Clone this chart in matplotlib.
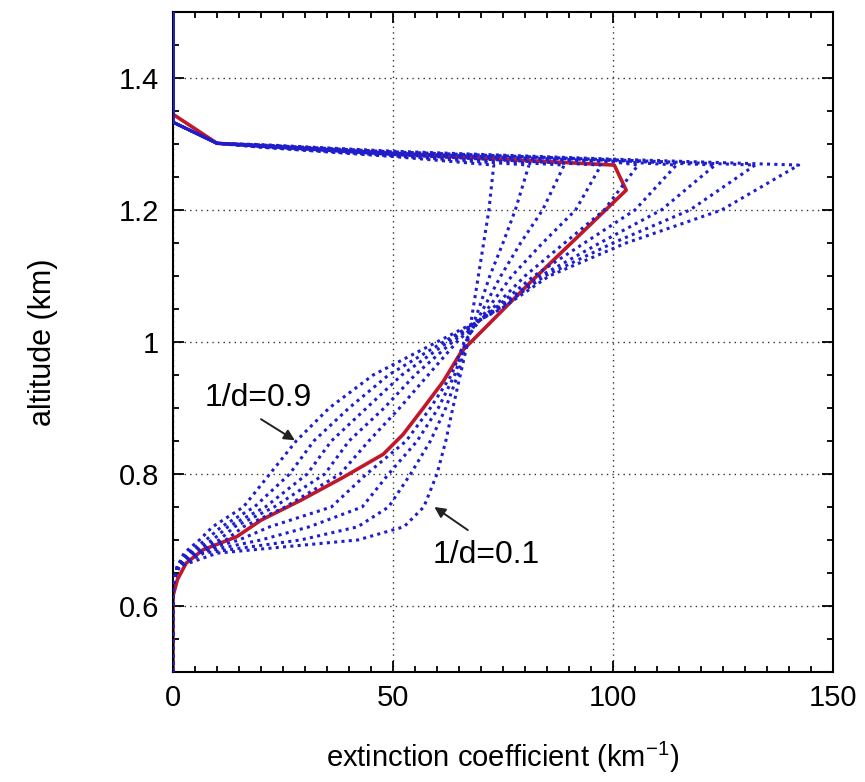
import matplotlib
matplotlib.use("Agg")
import matplotlib.pyplot as plt
from matplotlib.ticker import FixedLocator, FixedFormatter, MultipleLocator

plt.rcParams['font.family'] = ['Liberation Sans', 'DejaVu Sans']
plt.rcParams['mathtext.default'] = 'regular'

# ---- data -------------------------------------------------------------
# altitude levels (km) shared by the nine 1/d curves
alt_levels = [0.50, 0.62, 0.64, 0.66, 0.68, 0.70, 0.72, 0.75, 0.80, 0.85,
              0.90, 0.95, 1.00, 1.05, 1.10, 1.15, 1.20, 1.268]

inv_d = [0.1, 0.2, 0.3, 0.4, 0.5, 0.6, 0.7, 0.8, 0.9]

ext_d01 = [0, 0, 0.3, 1.5, 10.0, 42.0, 52.5, 57.0, 60.0, 62.0, 63.6, 65.3, 67.0, 68.2, 69.4, 70.6, 71.8, 72.9]
ext_d02 = [0, 0, 0.3, 1.3, 7.0, 29.0, 42.0, 49.0, 54.0, 58.5, 62.0, 64.7, 66.7, 69.5, 72.0, 75.0, 77.8, 80.9]
ext_d03 = [0, 0, 0.3, 1.2, 5.5, 20.0, 31.0, 43.0, 49.0, 55.5, 60.3, 64.0, 66.5, 70.5, 74.5, 79.0, 84.0, 88.9]
ext_d04 = [0, 0, 0.3, 1.1, 5.0, 15.0, 22.0, 36.0, 44.0, 53.0, 58.5, 63.3, 66.2, 71.5, 77.0, 84.0, 91.5, 97.3]
ext_d05 = [0, 0, 0.3, 1.0, 4.5, 12.0, 16.0, 25.5, 38.0, 44.5, 51.5, 58.0, 64.5, 72.5, 80.0, 89.0, 98.0, 105.7]
ext_d06 = [0, 0, 0.3, 1.0, 4.0, 10.5, 14.0, 23.0, 34.5, 40.0, 48.0, 55.0, 63.5, 73.0, 82.0, 93.5, 105.0, 114.4]
ext_d07 = [0, 0, 0.3, 1.0, 3.5, 9.0, 12.5, 21.0, 30.5, 36.0, 44.0, 52.0, 62.5, 73.5, 83.5, 97.0, 111.0, 123.2]
ext_d08 = [0, 0, 0.3, 1.0, 3.0, 7.5, 11.0, 18.5, 26.5, 32.0, 40.0, 49.0, 61.5, 74.0, 84.5, 100.0, 117.5, 132.3]
ext_d09 = [0, 0, 0.3, 1.0, 2.5, 6.0, 9.0, 16.0, 22.0, 28.0, 35.5, 45.5, 60.0, 74.5, 85.5, 103.0, 124.7, 142.2]

# cloud-top edge above each peak: extinction nodes and the altitude of each
# curve at those nodes (the top band is slightly different for each curve)
top_ext = [100.0, 50.0, 20.0, 10.0, 0.0, 0.0]
top_alt_100 = [1.270, 1.2705, 1.271, 1.272, 1.273, 1.274, 1.275, 1.276, 1.277]
top_alt_50 = [1.281, 1.282, 1.283, 1.284, 1.285, 1.286, 1.287, 1.288, 1.289]
top_alt_20 = [1.295, 1.2955, 1.296, 1.2965, 1.297, 1.2975, 1.298, 1.2985, 1.299]
top_alt_10 = 1.301
top_alt_0 = 1.333
top_alt_end = 1.50

# red reference profile
red_alt = [0.50, 0.615, 0.64, 0.665, 0.685, 0.705, 0.73, 0.76, 0.795, 0.83,
           0.86, 0.90, 0.94, 0.985, 1.089, 1.23, 1.268, 1.2855, 1.301, 1.345, 1.50]
red_ext = [0, 0, 1.0, 3.0, 6.8, 14.5, 20.0, 29.0, 38.7, 47.8,
           52.3, 56.9, 61.4, 65.5, 81.0, 103.0, 100.3, 50.0, 10.0, 0, 0]

xticks = [0, 50, 100, 150]
yticks = [0.6, 0.8, 1.0, 1.2, 1.4]
ytick_labels = ['0.6', '0.8', '1', '1.2', '1.4']

# ---- figure -----------------------------------------------------------
fig = plt.figure(figsize=(8.65, 7.82), dpi=100)
ax = fig.add_axes([0.200, 0.1407, 0.763, 0.844])

blue = '#1e1ecc'
curves = [ext_d01, ext_d02, ext_d03, ext_d04, ext_d05, ext_d06, ext_d07, ext_d08, ext_d09]
for i, ext in enumerate(curves):
    peak = ext[-1]
    t_alt = [top_alt_100[i], top_alt_50[i], top_alt_20[i], top_alt_10, top_alt_0, top_alt_end]
    xs = list(ext) + [x for x in top_ext if x < peak]
    ys = list(alt_levels) + [y for x, y in zip(top_ext, t_alt) if x < peak]
    ax.plot(xs, ys, color=blue, lw=2.2, ls=(0, (1, 1.4)), zorder=3)

ax.plot(red_ext, red_alt, color='#c0182a', lw=2.6, zorder=2.5)

ax.set_xlim(0, 150)
ax.set_ylim(0.5, 1.5)
ax.xaxis.set_major_locator(FixedLocator(xticks))
ax.xaxis.set_minor_locator(MultipleLocator(5))
ax.yaxis.set_major_locator(FixedLocator(yticks))
ax.yaxis.set_major_formatter(FixedFormatter(ytick_labels))
ax.yaxis.set_minor_locator(MultipleLocator(0.05))

ax.grid(True, which='major', color='#333333', ls=(0, (1, 3)), lw=1.0)
ax.tick_params(which='both', direction='in', top=True, right=True,
               labelsize=21, width=1.3)
ax.tick_params(which='major', length=8)
ax.tick_params(which='minor', length=4)
ax.tick_params(axis='x', pad=9)
ax.tick_params(axis='y', pad=10)
for s in ax.spines.values():
    s.set_linewidth(1.5)

ax.set_xlabel('extinction coefficient (km$^{-1}$)', fontsize=21, labelpad=20)
ax.set_ylabel('altitude (km)', fontsize=22, labelpad=44)

arrow = dict(arrowstyle='-|>', color='#222222', lw=1.4,
             shrinkA=0, shrinkB=0, mutation_scale=16)
ax.text(19.3, 0.915, '1/d=0.9', fontsize=23, ha='center', va='center')
ax.annotate('', xy=(27.7, 0.851), xytext=(20.0, 0.883), arrowprops=arrow)
ax.text(71.1, 0.677, '1/d=0.1', fontsize=23, ha='center', va='center')
ax.annotate('', xy=(59.4, 0.750), xytext=(67.0, 0.715), arrowprops=arrow)

fig.savefig('out.png', dpi=100)
